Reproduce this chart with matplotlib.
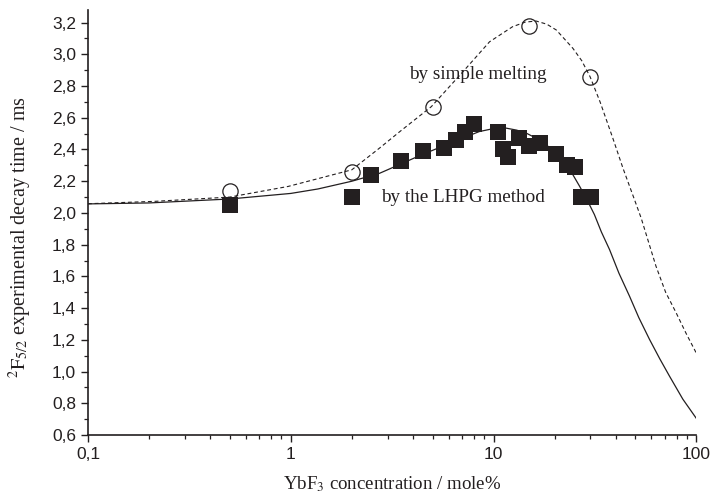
"""
Decay time of the 2F5/2 level vs YbF3 concentration
"""

import numpy as np
import matplotlib
matplotlib.use("Agg")
import matplotlib.pyplot as plt
import matplotlib.ticker as ticker

plt.rcParams['font.family'] = ['Liberation Sans', 'DejaVu Sans']
plt.rcParams['mathtext.fontset'] = 'stix'

# measured points, LHPG fibres (filled squares)
lhpg_conc = [0.5, 2.0, 2.5, 3.5, 4.5, 5.7, 6.5, 7.2, 8.0, 10.5, 11.1, 11.8,
             13.4, 14.9, 17.0, 20.4, 23.1, 25.1, 26.9, 30.3]
lhpg_tau = [2.05, 2.10, 2.24, 2.33, 2.39, 2.41, 2.46, 2.51, 2.56, 2.51, 2.40, 2.35,
            2.47, 2.42, 2.44, 2.37, 2.30, 2.29, 2.10, 2.10]

# measured points, simple melting (open circles)
melt_conc = [0.5, 2.0, 5.0, 15.0, 30.0]
melt_tau = [2.14, 2.26, 2.67, 3.18, 2.86]

# fitted curves
fit_lhpg_conc = [0.1, 0.2, 0.5, 1.0, 1.36, 2.0, 2.74, 3.0, 4.3, 6.1, 8.5, 10.0, 11.5,
                 13.0, 14.5, 15.6, 18.0, 20.4, 22.5, 24.6, 26.5, 28.6, 31.4, 34.0, 37.3,
                 41.5, 46.8, 52.0, 58.7, 66.0, 73.6, 85.7, 100]
fit_lhpg_tau = [2.057, 2.063, 2.088, 2.123, 2.151, 2.20, 2.25, 2.272, 2.36, 2.44, 2.513, 2.532, 2.535,
                2.522, 2.503, 2.482, 2.435, 2.373, 2.31, 2.241, 2.17, 2.094, 1.99, 1.88, 1.769,
                1.62, 1.475, 1.34, 1.203, 1.08, 0.972, 0.826, 0.704]

fit_melt_conc = [0.1, 0.213, 0.5, 0.97, 2.0, 2.74, 3.0, 3.45, 4.93, 7.06, 9.55, 12.4,
                 14.3, 16.2, 18.3, 20.4, 24.6, 27.2, 29.9, 33.5, 38.7, 43.5, 49.5, 53.4,
                 63.2, 70.5, 79.4, 89.0, 100]
fit_melt_tau = [2.058, 2.073, 2.10, 2.167, 2.272, 2.409, 2.45, 2.513, 2.67, 2.89, 3.079, 3.174,
                3.203, 3.21, 3.19, 3.153, 3.038, 2.96, 2.859, 2.70, 2.472, 2.28, 2.084, 1.968,
                1.664, 1.50, 1.371, 1.24, 1.115]

ink = "#231f20"

fig = plt.figure(figsize=(7.15, 4.96), dpi=100)
ax = fig.add_axes([0.123, 0.123, 0.851, 0.857])

ax.plot(fit_melt_conc, fit_melt_tau, color=ink, lw=0.8, ls=(0, (3.5, 2.5)))
ax.plot(fit_lhpg_conc, fit_lhpg_tau, color=ink, lw=0.9, ls="-")
ax.plot(melt_conc, melt_tau, ls="none", marker="o", ms=11, mfc="none", mec=ink, mew=0.9)
ax.plot(lhpg_conc, lhpg_tau, ls="none", marker="s", ms=11, mfc=ink, mec=ink, mew=0)

ax.set_xscale("log")
ax.set_xlim(0.1, 100)
ax.set_ylim(0.6, 3.28)

ax.spines["top"].set_visible(False)
ax.spines["right"].set_visible(False)
for s in ["left", "bottom"]:
	ax.spines[s].set_linewidth(1.2)
	ax.spines[s].set_color(ink)

ax.xaxis.set_major_locator(ticker.FixedLocator([0.1, 1, 10, 100]))
ax.xaxis.set_major_formatter(ticker.FixedFormatter(["0,1", "1", "10", "100"]))
ax.xaxis.set_minor_locator(ticker.LogLocator(base=10, subs=np.arange(2, 10)))
ax.xaxis.set_minor_formatter(ticker.NullFormatter())

ax.yaxis.set_major_locator(ticker.MultipleLocator(0.2))
ax.yaxis.set_minor_locator(ticker.MultipleLocator(0.1))
ax.yaxis.set_major_formatter(ticker.FuncFormatter(lambda v, p: ("%.1f" % v).replace(".", ",")))

ax.tick_params(which="major", direction="out", length=5, width=1.0, labelsize=12.5, color=ink, labelcolor=ink)
ax.tick_params(which="minor", direction="out", length=3, width=0.9, color=ink)

serif = ['Liberation Serif', 'DejaVu Serif']
ax.set_xlabel(r"YbF$_{3}$ concentration / mole%", family=serif, fontsize=13.6, color=ink, labelpad=9)
ax.set_ylabel(r"$^{2}\mathrm{F}_{5/2}$ experimental decay time / ms", family=serif, fontsize=14.5, color=ink)
ax.yaxis.set_label_coords(-0.088, 0.466)

ax.text(8.34, 2.87, "by simple melting", family=serif, fontsize=13.8, color=ink, ha="center", va="center")
ax.text(2.8, 2.10, "by the LHPG method", family=serif, fontsize=13.8, color=ink, ha="left", va="center")

fig.savefig("out.png", dpi=100)
